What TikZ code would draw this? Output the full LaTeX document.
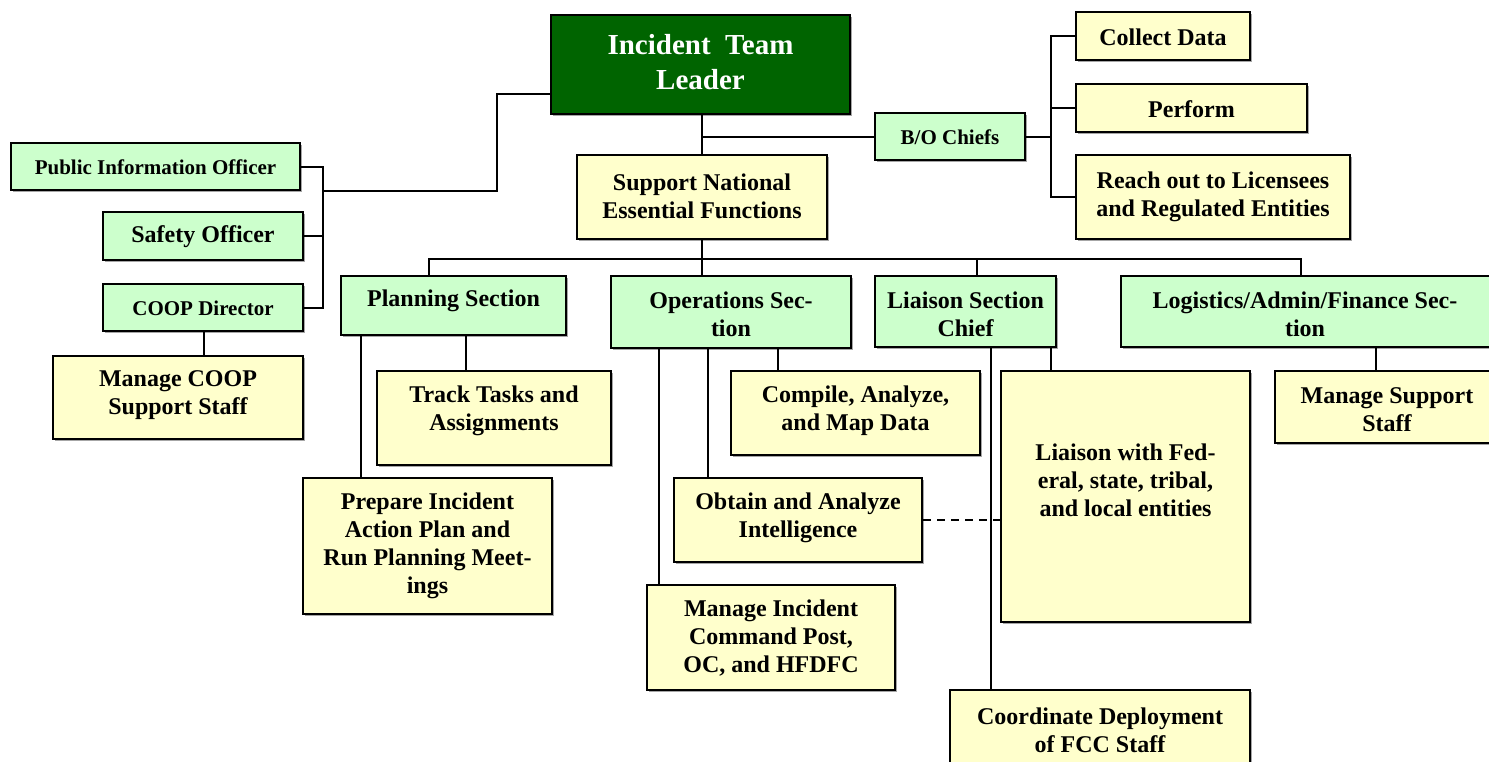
\documentclass[tikz,border=0pt]{standalone}
\usepackage{fontspec}
\setmainfont{Liberation Serif}
\usetikzlibrary{shadows}
\definecolor{leadgreen}{RGB}{0,100,0}
\definecolor{lgreen}{RGB}{204,255,204}
\definecolor{lyellow}{RGB}{255,255,204}
\tikzset{
  box/.style={draw=black, line width=2pt, inner sep=0pt,
    drop shadow={shadow xshift=2pt, shadow yshift=-2pt, fill=black!35, opacity=1}},
  gbox/.style={box, fill=lgreen},
  ybox/.style={box, fill=lyellow},
  lbox/.style={box, fill=leadgreen},
  txt/.style={font=\bfseries\fontsize{24}{28}\selectfont, align=center, inner sep=0pt},
  stxt/.style={txt, font=\bfseries\fontsize{21}{25}\selectfont},
  ltxt/.style={txt, text=white, font=\bfseries\fontsize{29}{35}\selectfont},
  conn/.style={draw=black, line width=2pt},
}
\newcommand\bx[9]{%
  \node[#6, minimum width=#4pt, minimum height=#5pt] (#1) at (#2,#3) {};
  \node[txt] (#1-t) at (#7,#8) {#9};}
\newcommand\sbx[9]{%
  \node[#6, minimum width=#4pt, minimum height=#5pt] (#1) at (#2,#3) {};
  \node[stxt] (#1-t) at (#7,#8) {#9};}
\begin{document}
\begin{tikzpicture}[x=1pt,y=-1pt]
\useasboundingbox (0,0) rectangle (1489,761);
\clip (0,0) rectangle (1489,761);
% x positions of offset connectors
\coordinate (pX) at (429,0);
\coordinate (lcX) at (977,0);
\coordinate (lgX) at (1301,0);
\coordinate (bar) at (702,259);
\coordinate (c361) at (361,0);
\coordinate (c466) at (466,0);
\coordinate (c659) at (659,0);
\coordinate (c708) at (708,0);
\coordinate (c778) at (778,0);
\coordinate (c991) at (991,0);
\coordinate (c1051) at (1051,0);
\coordinate (c1376) at (1376,0);
\coordinate (c204) at (204,0);
\coordinate (lb) at (323,191);
\coordinate (lt) at (497,94);

% boxes
\node[lbox, minimum width=299pt, minimum height=99pt] (leader) at (700.5,64.5) {};
\node[ltxt] (leader-t) at (700.5,62) {Incident\ \ Team\\Leader};
\bx{support}{702}{197}{250}{84}{ybox}{702}{196}{Support National\\Essential Functions}
\sbx{bo}{950}{136.5}{150}{47}{gbox}{950}{137}{B/O Chiefs}
\bx{collect}{1163}{36}{174}{48}{ybox}{1163}{37}{Collect Data}
\bx{perform}{1191.5}{108}{231}{48}{ybox}{1191.5}{109}{Perform}
\bx{reach}{1213}{197}{274}{84}{ybox}{1213}{197}{Reach out to Licensees\\and Regulated Entities}
\sbx{pio}{155.5}{166.5}{289}{47}{gbox}{155.5}{167}{Public Information Officer}
\bx{safety}{203}{236}{200}{48}{gbox}{203}{237}{Safety Officer}
\sbx{coopdir}{203}{307.5}{200}{47}{gbox}{203}{308}{COOP Director}
\bx{coopstaff}{178}{397.5}{250}{83}{ybox}{178}{395}{Manage COOP\\Support Staff}
\bx{planning}{453.5}{305.5}{225}{59}{gbox}{453.5}{301}{Planning Section}
\bx{ops}{731}{312}{240}{72}{gbox}{731}{314}{Operations Sec-\\tion}
\bx{liaison}{965.5}{311.5}{181}{71}{gbox}{965.5}{314}{Liaison Section\\Chief}
\bx{logistics}{1308}{311.5}{374}{71}{gbox}{1305}{314}{Logistics/Admin/Finance Sec-\\tion}
\bx{track}{494}{418}{234}{94}{ybox}{494}{411}{Track Tasks and\\Assignments}
\bx{prepare}{427.5}{546}{249}{136}{ybox}{427.5}{546}{Prepare Incident\\Action Plan and\\Run Planning Meet-\\ings}
\bx{compile}{855.5}{413}{249}{84}{ybox}{855.5}{411}{Compile, Analyze,\\and Map Data}
\bx{obtain}{798}{520}{248}{84}{ybox}{798}{518}{Obtain and Analyze\\Intelligence}
\bx{manageic}{771}{637.5}{248}{105}{ybox}{771}{638}{Manage Incident\\Command Post,\\OC, and HFDFC}
\bx{liaisonfed}{1125.5}{496.5}{249}{251}{ybox}{1125.5}{480}{Liaison with Fed-\\eral, state, tribal,\\and local entities}
\bx{coord}{1100}{732}{300}{84}{ybox}{1100}{730.5}{Coordinate Deployment\\of FCC Staff}
\bx{managess}{1385}{407}{220}{72}{ybox}{1387}{410}{Manage Support\\Staff}

% connectors
\draw[conn] (support.north |- leader.south) -- (support.north);
\draw[conn] (support.north |- leader.south) |- (bo.west);
\draw[conn] (bo.east) -- ++(25,0) coordinate (bj);
\draw[conn] (collect.west) -| (bj) |- (reach.west);
\draw[conn] (perform.west) -- (perform.west -| bj);
\draw[conn] (pio.east) -| (lb) |- (coopdir.east);
\draw[conn] (safety.east) -- (safety.east -| lb);
\draw[conn] (lb) -| (lt) -- (lt -| leader.west);
\draw[conn] (coopdir.south -| c204) -- (coopstaff.north -| c204);
\draw[conn] (support.south) -- (ops.north -| bar);
\draw[conn] (planning.north -| pX) |- (bar) -| (logistics.north -| lgX);
\draw[conn] (bar -| lcX) -- (liaison.north -| lcX);
\draw[conn] (planning.south -| c361) -- (prepare.north -| c361);
\draw[conn] (planning.south -| c466) -- (track.north -| c466);
\draw[conn] (ops.south -| c659) -- (manageic.north -| c659);
\draw[conn] (ops.south -| c708) -- (obtain.north -| c708);
\draw[conn] (ops.south -| c778) -- (compile.north -| c778);
\draw[conn] (liaison.south -| c991) -- (coord.north -| c991);
\draw[conn] (liaison.south -| c1051) -- (liaisonfed.north -| c1051);
\draw[conn] (logistics.south -| c1376) -- (managess.north -| c1376);
\draw[conn, dashed, dash pattern=on 8pt off 6pt] (obtain.east) -- (obtain.east -| liaisonfed.west);
\end{tikzpicture}
\end{document}
